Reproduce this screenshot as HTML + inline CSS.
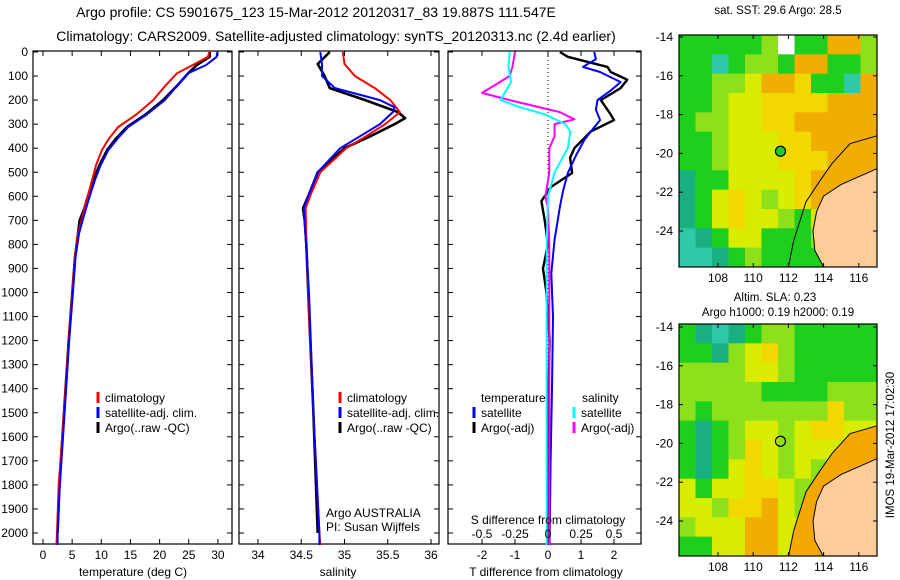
<!DOCTYPE html>
<html><head><meta charset="utf-8">
<style>
html,body{margin:0;padding:0;background:#fff;}
svg{display:block;font-family:"Liberation Sans",sans-serif;}
text{fill:#000;}
</style></head>
<body>
<svg id="fig" width="900" height="580" viewBox="0 0 900 580" xmlns="http://www.w3.org/2000/svg">
<text x="316" y="17" font-size="14" text-anchor="middle">Argo profile: CS 5901675_123 15-Mar-2012 20120317_83 19.887S 111.547E</text>
<text x="336" y="41" font-size="14" text-anchor="middle">Climatology: CARS2009. Satellite-adjusted climatology: synTS_20120313.nc (2.4d earlier)</text>
<g id="g"></g>
</svg>
<script>
// ---------- data ----------
const depthTicks = [0,100,200,300,400,500,600,700,800,900,1000,1100,1200,1300,1400,1500,1600,1700,1800,1900,2000];
const tempTicks = [0,5,10,15,20,25,30];
const salTicks = [34,34.5,35,35.5,36];
const tdiffTicks = [-2,-1,0,1,2];
const sdiffTicks = [-0.5,-0.25,0,0.25,0.5];
const sdiffTickLabels = ["-0.5","-0.25","0","0.25","0.5"];

const tClimDepth = [0,20,54,88,140,200,260,312,360,408,470,533,616,700,754,850,979,1200,1500,1800,2000,2050];
const tClimVal   = [28.5,28.3,25.7,23,21,18.9,16,12.9,11.3,10.1,9.1,8.4,7.5,6.6,6.0,5.5,5.1,4.4,3.6,2.7,2.4,2.3];
const tSatDepth  = [0,20,54,88,140,200,260,312,360,408,470,533,616,700,754,850,979,1200,1500,1800,2000,2050];
const tSatVal    = [29.9,29.8,28,24.9,23,20.9,17.8,14.6,12.8,11.2,9.9,8.9,7.8,6.8,6.2,5.6,5.2,4.5,3.7,2.9,2.5,2.5];
const tArgoDepth = [0,20,54,88,140,200,260,312,360,408,470,533,616,650,700,754,850,979,1200,1500,1800,2000];
const tArgoVal   = [28.6,28.6,26.4,24.9,23,20.6,17.6,14.4,12.5,11,9.7,8.6,7.5,7.1,6.3,6.0,5.5,5.1,4.4,3.6,2.8,2.5];

const sClimDepth = [0,50,100,150,200,250,300,350,400,500,600,650,800,1000,1500,2000,2050];
const sClimVal   = [34.98,35.0,35.12,35.35,35.53,35.64,35.47,35.25,35.02,34.72,34.6,34.55,34.56,34.58,34.64,34.71,34.72];
const sSatDepth  = [0,50,100,150,200,230,250,300,350,400,500,600,650,1000,1500,2000,2050];
const sSatVal    = [34.72,34.74,34.74,34.89,35.41,35.58,35.56,35.41,35.18,34.95,34.69,34.58,34.53,34.59,34.64,34.71,34.71];
const sArgoDepth = [0,50,100,150,200,250,275,300,350,400,500,600,650,700,800,1000,1500,2000];
const sArgoVal   = [34.83,34.69,34.77,34.83,35.24,35.62,35.70,35.58,35.3,35.0,34.69,34.58,34.52,34.54,34.56,34.58,34.64,34.69];

const dtSatDepth  = [0,30,62,83,125,160,200,240,283,330,366,430,503,580,644,780,920,1100,1400,1700,2050];
const dtSatVal    = [1.4,1.45,1.06,1.58,2.2,1.9,1.5,1.45,1.58,1.3,1.1,0.85,0.6,0.45,0.36,0.2,0.1,0.15,0.12,0.08,0.05];
const dtArgoDepth = [0,20,62,83,115,150,200,260,283,330,400,440,503,560,620,700,800,900,1000,1200,1500,2050];
const dtArgoVal   = [0.36,0.6,1.8,1.9,2.4,2.2,1.6,1.9,2.0,1.3,0.8,0.67,0.73,0.1,-0.2,-0.1,0.0,-0.15,-0.05,0.05,0.0,0.02];
const dsSatDepth  = [0,62,125,200,230,260,300,330,400,500,600,800,1200,2050];
const dsSatVal    = [-0.29,-0.3,-0.28,-0.36,-0.21,-0.02,0.13,0.17,0.15,0.05,0.0,-0.01,-0.01,-0.01];
const dsArgoDepth = [0,62,100,150,170,200,250,280,300,350,400,500,600,650,800,1200,2050];
const dsArgoVal   = [-0.25,-0.27,-0.29,-0.44,-0.5,-0.29,0.09,0.2,0.05,0.05,0.01,0.01,-0.02,0.0,0.01,0.01,0.01];

// map grids (lat rows north->south, lon cols west->east)
const sstGrid = [
"GGGGGLWGGOOL","GGCGLLGOOGGL","GGLLYOOyGGCO","GGLYYyyyyOOO","GLLYYyyOOOOO","GGLYYYyyOOOO",
"GGLYYYyyyOOO","TGGYYYYyOOOO","TGYyYLYyOOOO","TGYyYYLGyOOO","CTGYYGGGLGOO","CCTGLGGGGGOO"];
const slaGrid = [
"GTCTGLLGGGGG","GGTLYyLGGGGG","LLLLYYLGGGGG","LLLLLGGGGLLL","LGLLLLLLLyLL","GTGLYYLYyyYY",
"GTGLyYLYYYOO","GTGYyYLYLYOO","YGYYyyYLLYOO","YYLyyOYLYOOO","LYYYOOYYOOOO","GGYYOOYYOOOO"];
const latTicks = [-14,-16,-18,-20,-22,-24];
const lonTicks = [108,110,112,114,116];
const coastLon = [117,116,115,114.5,114,113.6,113.4,113.5,114];
const coastLat = [20.8,21.2,21.6,21.9,22.2,23,24,25,25.85];
const shelfLon = [117,115.5,114.5,113.8,113,112.3,112];
const shelfLat = [19.1,19.5,20.5,21.4,22.5,24.5,25.85];
const argoLon = 111.55, argoLat = 19.89;

// ---------- helpers ----------
const NS="http://www.w3.org/2000/svg";
const G=document.getElementById('g');
function el(tag,attrs,parent){const e=document.createElementNS(NS,tag);for(const k in attrs)e.setAttribute(k,attrs[k]);(parent||G).appendChild(e);return e;}
function txt(s,x,y,size,anchor,parent){const t=el('text',{x:x,y:y,'font-size':size,'text-anchor':anchor||'middle'},parent);t.textContent=s;return t;}

const TOP=52, BOT=544, DSC=0.2405;
const yD = d => TOP + d*DSC;

function frame(x0,x1,name){
  const r=el('rect',{x:x0,y:TOP-1,width:x1-x0,height:BOT-TOP+1,fill:'none',stroke:'#000','stroke-width':1.2});
  
  
  depthTicks.forEach(d=>{const y=yD(d);
    el('line',{x1:x0,x2:x0+5,y1:y,y2:y,stroke:'#000'});
    el('line',{x1:x1-5,x2:x1,y1:y,y2:y,stroke:'#000'});});
}
function profile(depths,vals,xf,color,w,name){
  const pts=depths.map((d,i)=>xf(vals[i]).toFixed(1)+','+yD(d).toFixed(1)).join(' ');
  const p=el('polyline',{points:pts,fill:'none',stroke:color,'stroke-width':w,'stroke-linejoin':'round'});
  
  
}
function legendEntry(x,y,color,label,name){
  const g=el('g',{});
  
  
  el('line',{x1:x,x2:x,y1:y-10,y2:y+1,stroke:color,'stroke-width':3},g);
  txt(label,x+7,y,12,'start',g);
}

// ---------- panel 1: temperature ----------
const xT = t => 43 + t*5.83;
frame(33,232,'temperature-panel');
depthTicks.forEach(d=>{const t=txt(String(d),28,yD(d)+4,12,'end');});
tempTicks.forEach(v=>{const x=xT(v);el('line',{x1:x,x2:x,y1:TOP-1,y2:TOP+4,stroke:'#000'});el('line',{x1:x,x2:x,y1:BOT-5,y2:BOT,stroke:'#000'});txt(String(v),x,559,12);});
txt('temperature (deg C)',133,576,12);
profile(tArgoDepth,tArgoVal,xT,'#000',2.6,'temp-argo-line');
profile(tClimDepth,tClimVal,xT,'#f00',2,'temp-climatology-line');
profile(tSatDepth,tSatVal,xT,'#00f',2,'temp-satellite-line');
legendEntry(98,402,'#f00','climatology','temp-legend-climatology');
legendEntry(98,417,'#00f','satellite-adj. clim.','temp-legend-satellite');
legendEntry(98,432,'#000','Argo(..raw -QC)','temp-legend-argo');

// ---------- panel 2: salinity ----------
const xS = s => 258 + (s-34)*86.5;
frame(239,439,'salinity-panel');
salTicks.forEach(v=>{const x=xS(v);el('line',{x1:x,x2:x,y1:TOP-1,y2:TOP+4,stroke:'#000'});el('line',{x1:x,x2:x,y1:BOT-5,y2:BOT,stroke:'#000'});txt(String(v),x,559,12);});
txt('salinity',338,576,12);
profile(sArgoDepth,sArgoVal,xS,'#000',2.6,'sal-argo-line');
profile(sClimDepth,sClimVal,xS,'#f00',2,'sal-climatology-line');
profile(sSatDepth,sSatVal,xS,'#00f',2,'sal-satellite-line');
legendEntry(340,402,'#f00','climatology','sal-legend-climatology');
legendEntry(340,417,'#00f','satellite-adj. clim.','sal-legend-satellite');
legendEntry(340,432,'#000','Argo(..raw -QC)','sal-legend-argo');
txt('Argo AUSTRALIA',326,517,12,'start');
txt('PI: Susan Wijffels',326,531,12,'start');

// ---------- panel 3: differences ----------
const xDT = t => 548 + t*33;
const xDS = s => 548 + s*132;
frame(448,641,'difference-panel');
el('line',{x1:548,x2:548,y1:TOP,y2:BOT,stroke:'#000','stroke-dasharray':'1,3'});
tdiffTicks.forEach(v=>{const x=xDT(v);el('line',{x1:x,x2:x,y1:TOP-1,y2:TOP+4,stroke:'#000'});el('line',{x1:x,x2:x,y1:BOT-5,y2:BOT,stroke:'#000'});txt(String(v),x,559,12);});
txt('T difference from climatology',546,576,12);
profile(dtArgoDepth,dtArgoVal,xDT,'#000',2.4,'tdiff-argo-line');
profile(dtSatDepth,dtSatVal,xDT,'#00f',2,'tdiff-satellite-line');
profile(dsArgoDepth,dsArgoVal,xDS,'#f0f',2,'sdiff-argo-line');
profile(dsSatDepth,dsSatVal,xDS,'#0ff',2,'sdiff-satellite-line');
sdiffTicks.forEach((v,i)=>{txt(sdiffTickLabels[i],xDS(v),538,12);});
txt('S difference from climatology',548,524,12);
txt('temperature',481,402,12,'start');
legendEntry(474,417,'#00f','satellite','tdiff-legend-satellite');
legendEntry(474,432,'#000','Argo(-adj)','tdiff-legend-argo');
txt('salinity',582,402,12,'start');
legendEntry(574,417,'#0ff','satellite','sdiff-legend-satellite');
legendEntry(574,432,'#f0f','Argo(-adj)','sdiff-legend-argo');

// ---------- maps ----------
const COL={G:'#1ecf1e',L:'#8ee01a',Y:'#d8ec00',y:'#f0d800',O:'#f2ae00',C:'#30c8a8',T:'#18b080',W:'#ffffff'};
const MX0=679, MX1=877;
const xL = lon => 718 + (lon-108)*17.6;
function drawMap(top,grid,name,lat14y,showMarkerFill){
  const yLat = lat => lat14y + (lat-14)*19.4;
  const g=el('g',{});
  
  
  const bottom = top + 232;
  const cw=(MX1-MX0)/grid[0].length, ch=(bottom-top)/grid.length;
  grid.forEach((row,r)=>{[...row].forEach((c,k)=>{
    el('rect',{x:MX0+k*cw,y:top+r*ch,width:cw+0.5,height:ch+0.5,fill:COL[c]},g);
  });});
  const clip='clip'+top;
  const cp=el('clipPath',{id:clip},g);el('rect',{x:MX0,y:top,width:MX1-MX0,height:232},cp);
  const shelfPts=shelfLon.map((l,i)=>xL(l)+','+yLat(shelfLat[i])).join(' ');
  const landPts=coastLon.map((l,i)=>xL(l)+','+yLat(coastLat[i])).join(' ')+' '+xL(117.5)+','+yLat(26)+' '+xL(117.5)+','+yLat(20.8);
  if(!showMarkerFill){el('polygon',{points:shelfPts+' '+xL(114)+','+yLat(26)+' '+xL(117.5)+','+yLat(26)+' '+xL(117.5)+','+yLat(19),fill:'#f2a800','clip-path':'url(#'+clip+')'},g);}
  el('polyline',{points:shelfPts,fill:'none',stroke:'#000','stroke-width':1,'clip-path':'url(#'+clip+')'},g);
  const land=el('polygon',{points:landPts,fill:'#fccc99',stroke:'#000','stroke-width':1,'clip-path':'url(#'+clip+')'},g);
  
  
  const mk=el('circle',{cx:xL(argoLon),cy:yLat(argoLat),r:5,fill:showMarkerFill?'#22cc22':'none',stroke:'#000','stroke-width':1.2},g);
  
  
  el('rect',{x:MX0,y:top,width:MX1-MX0,height:232,fill:'none',stroke:'#000','stroke-width':1.2},g);
  latTicks.forEach(v=>{const y=yLat(-v);el('line',{x1:MX0,x2:MX0+4,y1:y,y2:y,stroke:'#000'},g);el('line',{x1:MX1-4,x2:MX1,y1:y,y2:y,stroke:'#000'},g);txt(String(v),673,y+4,12,'end',g);});
  lonTicks.forEach(v=>{const x=xL(v);el('line',{x1:x,x2:x,y1:top,y2:top+4,stroke:'#000'},g);el('line',{x1:x,x2:x,y1:bottom-4,y2:bottom,stroke:'#000'},g);txt(String(v),x,bottom+15,12,'middle',g);});
}
drawMap(35,sstGrid,'sst-map',37,true);
txt('sat. SST: 29.6 Argo: 28.5',778,14,11.5);
drawMap(324,slaGrid,'sla-map',327,false);
txt('Altim. SLA: 0.23',775,301,11.5);
txt('Argo h1000: 0.19 h2000: 0.19',778,316,11.5);
const stamp=txt('IMOS 19-Mar-2012 17:02:30',0,0,11.5,'middle');
stamp.setAttribute('transform','translate(894,445) rotate(-90)');


</script>
</body></html>
